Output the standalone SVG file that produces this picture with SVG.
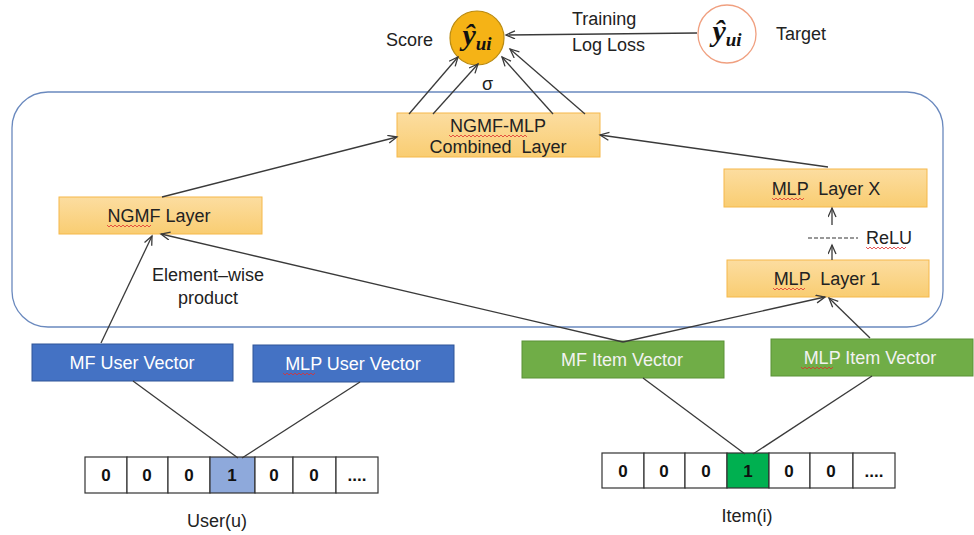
<svg xmlns="http://www.w3.org/2000/svg" width="974" height="535" viewBox="0 0 974 535">
<defs>
<marker id="arr" markerUnits="userSpaceOnUse" markerWidth="12" markerHeight="10" refX="10" refY="4.5" orient="auto">
<path d="M1,0.5 L10,4.5 L1,8.5" fill="none" stroke="#3a3a3a" stroke-width="1.3"/>
</marker>
<linearGradient id="og" x1="0" y1="0" x2="0" y2="1">
<stop offset="0" stop-color="#FCDDA0"/>
<stop offset="1" stop-color="#F9CD72"/>
</linearGradient>
</defs>
<style>
text{font-family:"Liberation Sans",Arial,sans-serif;font-size:18px;fill:#222}
.layer rect{fill:url(#og);stroke:#F5B84A;stroke-width:1}
.blue rect{fill:#4472C4;stroke:#2F5597;stroke-width:1}
.green rect{fill:#70AD47;stroke:#5A9236;stroke-width:1}
.vt{fill:#fff;text-anchor:middle}
.ct{text-anchor:middle}
.conn line{stroke:#3a3a3a;stroke-width:1.3;fill:none}
.a{marker-end:url(#arr)}
.cell rect{fill:#fff;stroke:#333;stroke-width:1.2}
.dig{font-weight:bold;font-size:17px;text-anchor:middle;fill:#111}
.yhat{font-family:"Liberation Serif",serif;font-weight:bold;font-style:italic;font-size:30px;fill:#111}
.sq{fill:none;stroke:#E03030;stroke-width:0.8}
</style>
<rect x="0" y="0" width="974" height="535" fill="#fff"/>

<g id="container">
<rect x="12" y="92" width="931" height="235" rx="36" ry="36" fill="none" stroke="#6A89BE" stroke-width="1.3"/>
</g>

<g id="score">
<circle cx="477" cy="38" r="27" fill="#F5B316" stroke="#B98A10" stroke-width="1.2"/>
<text class="yhat" x="477" y="45" text-anchor="middle">ŷ<tspan font-size="19" dy="5">ui</tspan></text>
<text x="386" y="46">Score</text>
</g>

<g id="target">
<circle cx="727" cy="34" r="29" fill="#fff" stroke="#F0A080" stroke-width="1.3"/>
<text class="yhat" x="727" y="41" text-anchor="middle">ŷ<tspan font-size="19" dy="5">ui</tspan></text>
<text x="776" y="40">Target</text>
</g>

<g id="loss-label">
<text x="572" y="25">Training</text>
<text x="572" y="51">Log Loss</text>
</g>

<g id="combined" class="layer">
<rect x="397" y="113" width="203" height="44"/>
<text class="ct" x="498" y="132">NGMF-MLP</text>
<text class="ct" x="498" y="153" xml:space="preserve">Combined  Layer</text>
<path class="sq" d="M449,135 l2,2 l2,-2 l2,2 l2,-2 l2,2 l2,-2 l2,2 l2,-2 l2,2 l2,-2 l2,2 l2,-2 l2,2 l2,-2 l2,2 l2,-2 l2,2 l2,-2 l2,2 l2,-2 l2,2 l2,-2 l2,2 l2,-2 l2,2 l2,-2 l2,2 l2,-2 l2,2 l2,-2 l2,2 l2,-2 l2,2 l2,-2 l2,2 l2,-2 l2,2 l2,-2 l2,2"/>
</g>

<g id="ngmf" class="layer">
<rect x="59" y="197" width="203" height="37"/>
<text class="ct" x="159" y="222">NGMF Layer</text>
<path class="sq" d="M107,225 l2,2 l2,-2 l2,2 l2,-2 l2,2 l2,-2 l2,2 l2,-2 l2,2 l2,-2 l2,2 l2,-2 l2,2 l2,-2 l2,2 l2,-2 l2,2 l2,-2 l2,2 l2,-2 l2,2 l2,-2"/>
</g>

<g id="mlpx" class="layer">
<rect x="724" y="169" width="203" height="38"/>
<text class="ct" x="826" y="195" xml:space="preserve">MLP  Layer X</text>
<path class="sq" d="M772,198 l2,2 l2,-2 l2,2 l2,-2 l2,2 l2,-2 l2,2 l2,-2 l2,2 l2,-2 l2,2 l2,-2 l2,2 l2,-2 l2,2 l2,-2"/>
</g>

<g id="mlp1" class="layer">
<rect x="727" y="260" width="202" height="37"/>
<text class="ct" x="827" y="285" xml:space="preserve">MLP  Layer 1</text>
<path class="sq" d="M773,288 l2,2 l2,-2 l2,2 l2,-2 l2,2 l2,-2 l2,2 l2,-2 l2,2 l2,-2 l2,2 l2,-2 l2,2 l2,-2 l2,2 l2,-2"/>
</g>

<g id="relu">
<line x1="808" y1="238" x2="858" y2="238" stroke="#333" stroke-width="1.1" stroke-dasharray="4,2"/>
<text x="866" y="244">ReLU</text>
<path class="sq" d="M866,247 l2,2 l2,-2 l2,2 l2,-2 l2,2 l2,-2 l2,2 l2,-2 l2,2 l2,-2 l2,2 l2,-2 l2,2 l2,-2 l2,2 l2,-2 l2,2 l2,-2 l2,2 l2,-2"/>
</g>

<g id="elementwise">
<text class="ct" x="208" y="281">Element–wise</text>
<text class="ct" x="208" y="304">product</text>
</g>

<g id="sigma">
<text x="482" y="90" font-size="17">σ</text>
</g>

<g id="mf-user" class="blue">
<rect x="32" y="344" width="201" height="37"/>
<text class="vt" x="132" y="369">MF User Vector</text>
</g>
<g id="mlp-user" class="blue">
<rect x="253" y="345" width="201" height="37"/>
<text class="vt" x="353" y="370">MLP User Vector</text>
<path class="sq" d="M283,373 l2,2 l2,-2 l2,2 l2,-2 l2,2 l2,-2 l2,2 l2,-2 l2,2 l2,-2 l2,2 l2,-2 l2,2 l2,-2 l2,2 l2,-2"/>
</g>
<g id="mf-item" class="green">
<rect x="522" y="341" width="202" height="37"/>
<text class="vt" x="622" y="366" style="fill:#F2F2F2">MF Item Vector</text>
</g>
<g id="mlp-item" class="green">
<rect x="771" y="339" width="202" height="37"/>
<text class="vt" x="870" y="364" style="fill:#F2F2F2">MLP Item Vector</text>
<path class="sq" d="M801,367 l2,2 l2,-2 l2,2 l2,-2 l2,2 l2,-2 l2,2 l2,-2 l2,2 l2,-2 l2,2 l2,-2 l2,2 l2,-2 l2,2 l2,-2"/>
</g>

<g id="user-vector" class="cell">
<rect x="85" y="457" width="42" height="36"/>
<rect x="127" y="457" width="41" height="36"/>
<rect x="168" y="457" width="42" height="36"/>
<rect x="210" y="457" width="45" height="36" style="fill:#8EA9DB"/>
<rect x="255" y="457" width="38" height="36"/>
<rect x="293" y="457" width="43" height="36"/>
<rect x="336" y="457" width="42" height="36"/>
<text class="dig" x="106" y="481">0</text>
<text class="dig" x="147" y="481">0</text>
<text class="dig" x="189" y="481">0</text>
<text class="dig" x="232" y="481">1</text>
<text class="dig" x="274" y="481">0</text>
<text class="dig" x="314" y="481">0</text>
<text class="dig" x="357" y="481">....</text>
<text class="ct" x="217" y="527">User(u)</text>
</g>

<g id="item-vector" class="cell">
<rect x="602" y="453" width="42" height="35"/>
<rect x="644" y="453" width="41" height="35"/>
<rect x="685" y="453" width="42" height="35"/>
<rect x="727" y="453" width="42" height="35" style="fill:#00B050"/>
<rect x="769" y="453" width="41" height="35"/>
<rect x="810" y="453" width="43" height="35"/>
<rect x="853" y="453" width="42" height="35"/>
<text class="dig" x="623" y="477">0</text>
<text class="dig" x="664" y="477">0</text>
<text class="dig" x="706" y="477">0</text>
<text class="dig" x="748" y="477">1</text>
<text class="dig" x="789" y="477">0</text>
<text class="dig" x="831" y="477">0</text>
<text class="dig" x="874" y="477">....</text>
<text class="ct" x="747" y="522">Item(i)</text>
</g>

<g id="connectors" class="conn">
<line class="a" x1="697" y1="33" x2="506" y2="35"/>
<line class="a" x1="409" y1="114" x2="458" y2="57"/>
<line class="a" x1="433" y1="114" x2="478" y2="64"/>
<line class="a" x1="553" y1="114" x2="502" y2="57"/>
<line class="a" x1="585" y1="114" x2="510" y2="49"/>
<line class="a" x1="162" y1="197" x2="397" y2="137"/>
<line class="a" x1="828" y1="167" x2="600" y2="135"/>
<line class="a" x1="832" y1="225" x2="832" y2="208"/>
<line class="a" x1="832" y1="260" x2="832" y2="245"/>
<line class="a" x1="101" y1="343" x2="152" y2="236"/>
<line class="a" x1="623" y1="342" x2="161" y2="234"/>
<line class="a" x1="623" y1="342" x2="825" y2="297"/>
<line class="a" x1="870" y1="338" x2="829" y2="298"/>
<line x1="133" y1="381" x2="238" y2="458"/>
<line x1="360" y1="382" x2="242" y2="458"/>
<line x1="643" y1="378" x2="745" y2="454"/>
<line x1="872" y1="376" x2="753" y2="454"/>
</g>
</svg>
